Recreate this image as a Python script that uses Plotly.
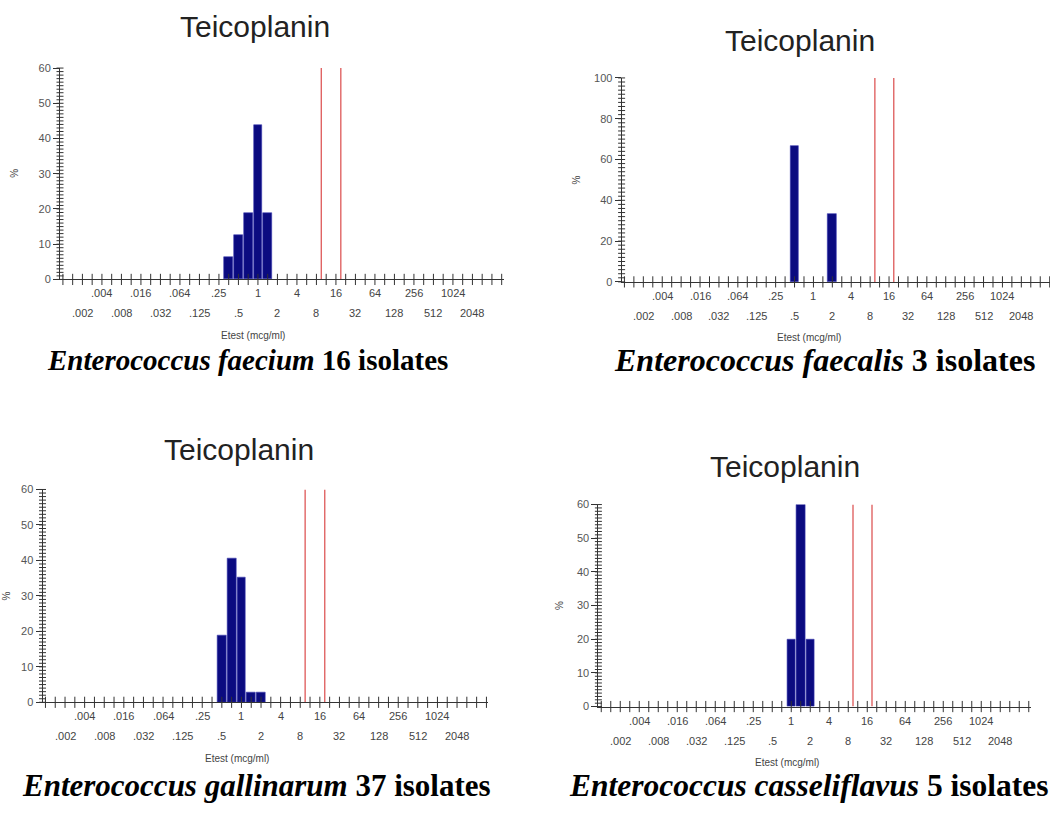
import plotly.graph_objects as go

# Etest half-dilution scale (mcg/ml); bins are placed at their index on this scale
mic_scale = [0.002, 0.003, 0.004, 0.006, 0.008, 0.012, 0.016, 0.023, 0.032, 0.047,
             0.064, 0.094, 0.125, 0.19, 0.25, 0.38, 0.5, 0.75, 1, 1.5, 2, 3, 4, 6,
             8, 12, 16, 24, 32, 48, 64, 96, 128, 192, 256, 384, 512, 768, 1024,
             1536, 2048]

# doubling-dilution labels, alternating between an upper and a lower row
top_labels = {0.004: ".004", 0.016: ".016", 0.064: ".064", 0.25: ".25", 1: "1",
              4: "4", 16: "16", 64: "64", 256: "256", 1024: "1024"}
bottom_labels = {0.002: ".002", 0.008: ".008", 0.032: ".032", 0.125: ".125",
                 0.5: ".5", 2: "2", 8: "8", 32: "32", 128: "128", 512: "512",
                 2048: "2048"}

# teicoplanin breakpoints (S <= 8, R >= 32): lines at the upper edge of the 8 and 16 bins
breakpoints = [8, 16]

drug = "Teicoplanin"
x_title = "Etest (mcg/ml)"
y_title = "%"

faecium_mic = [0.38, 0.5, 0.75, 1, 1.5]
faecium_pct = [6.25, 12.5, 18.75, 43.75, 18.75]

faecalis_mic = [0.5, 2]
faecalis_pct = [66.67, 33.33]

gallinarum_mic = [0.5, 0.75, 1, 1.5, 2]
gallinarum_pct = [18.92, 40.54, 35.14, 2.70, 2.70]

casseliflavus_mic = [1, 1.5, 2]
casseliflavus_pct = [20, 60, 20]

captions = [
    "<b><i>Enterococcus faecium</i> 16 isolates</b>",
    "<b><i>Enterococcus faecalis</i> 3 isolates</b>",
    "<b><i>Enterococcus gallinarum</i> 37 isolates</b>",
    "<b><i>Enterococcus casseliflavus</i> 5 isolates</b>",
]

W, H = 1050, 816
SANS = "Liberation Sans, Arial, sans-serif"
SERIF = "Liberation Serif, Times New Roman, serif"
BAR = "#0b0b80"
RED = "#e06464"
AX = "#333333"

# panel geometry in pixels: left edge, px per half-step, plot top/bottom, title centre,
# y-label offset, caption left edge / centre line / size
panels = [
    dict(mic=faecium_mic, pct=faecium_pct, x0=60, step=9.75, top=63, bot=277.5,
         ymax=60, major=10, minor=1, title_x=255, title_y=26, ylab=-45,
         cap_x=45, cap_y=359, cap_size=29),
    dict(mic=faecalis_mic, pct=faecalis_pct, x0=621.6, step=9.45, top=73, bot=280,
         ymax=100, major=20, minor=2, title_x=800, title_y=40.5, ylab=-45,
         cap_x=612, cap_y=359, cap_size=32),
    dict(mic=gallinarum_mic, pct=gallinarum_pct, x0=42.5, step=9.8, top=490.7, bot=706.7,
         ymax=60, major=10, minor=1, title_x=239, title_y=455, ylab=-36,
         cap_x=20, cap_y=791, cap_size=31),
    dict(mic=casseliflavus_mic, pct=casseliflavus_pct, x0=598.4, step=9.5, top=506, bot=711,
         ymax=60, major=10, minor=1, title_x=785, title_y=472.6, ylab=-39,
         cap_x=567, cap_y=791, cap_size=31.5),
]

LEFT_PAD = 2.3    # half-steps shown below .002
RIGHT_PAD = 3.2   # half-steps shown above 2048

fig = go.Figure()
annotations = []
layout_axes = {}

for n, p in enumerate(panels, start=1):
    sfx = "" if n == 1 else str(n)
    xa, ya = "x" + sfx, "y" + sfx

    lo = -LEFT_PAD
    hi = len(mic_scale) - 1 + RIGHT_PAD
    x1 = p["x0"] + (hi - lo) * p["step"]
    if x1 > W:
        x1 = W
        hi = lo + (W - p["x0"]) / p["step"]

    layout_axes["xaxis" + sfx] = dict(
        domain=[p["x0"] / W, x1 / W], range=[lo, hi], anchor=ya,
        showline=True, linecolor=AX, linewidth=1, ticks="", showticklabels=False,
        showgrid=False, zeroline=False,
    )
    layout_axes["yaxis" + sfx] = dict(
        domain=[1 - p["bot"] / H, 1 - p["top"] / H], range=[0, p["ymax"]], anchor=xa,
        showline=True, linecolor=AX, linewidth=1, ticks="outside", ticklen=6,
        tickcolor=AX, tickwidth=1, dtick=p["major"], tick0=0,
        tickfont=dict(family=SANS, size=11, color="#555555"),
        showgrid=False, zeroline=False,
    )

    # histogram bars
    pos = [mic_scale.index(v) for v in p["mic"]]
    fig.add_trace(go.Bar(
        x=pos, y=p["pct"], width=0.9, xaxis=xa, yaxis=ya,
        marker=dict(color=BAR, line=dict(color="#3c3cb0", width=0.6)),
        showlegend=False, hoverinfo="x+y",
    ))

    # breakpoint lines
    for bp in breakpoints:
        bx = mic_scale.index(bp) + 0.5
        fig.add_trace(go.Scatter(
            x=[bx, bx], y=[0, p["ymax"]], mode="lines", xaxis=xa, yaxis=ya,
            line=dict(color=RED, width=1.4), showlegend=False, hoverinfo="skip",
        ))

    # crossing tick marks on the x axis, one per half-step
    tick_pos = [t for t in range(int(-LEFT_PAD), int(hi) + 1) if lo < t <= hi]
    fig.add_trace(go.Scatter(
        x=tick_pos, y=[0] * len(tick_pos), mode="markers", xaxis=xa, yaxis=ya,
        marker=dict(symbol="line-ns", size=8, line=dict(color=AX, width=1)),
        cliponaxis=False, showlegend=False, hoverinfo="skip",
    ))

    # crossing minor ticks on the y axis
    ys = [k * p["minor"] for k in range(int(p["ymax"] / p["minor"]) + 1)]
    fig.add_trace(go.Scatter(
        x=[lo] * len(ys), y=ys, mode="markers", xaxis=xa, yaxis=ya,
        marker=dict(symbol="line-ew", size=5, line=dict(color=AX, width=1)),
        cliponaxis=False, showlegend=False, hoverinfo="skip",
    ))

    # two-row x tick labels
    for row, shift in ((top_labels, -14), (bottom_labels, -34)):
        for v, txt in row.items():
            annotations.append(dict(
                x=mic_scale.index(v), y=0, xref=xa, yref=ya + " domain",
                text=txt, showarrow=False, yanchor="middle", yshift=shift,
                font=dict(family=SANS, size=11, color="#444444"),
            ))

    # axis titles
    annotations.append(dict(
        x=17.5, y=0, xref=xa, yref=ya + " domain", text=x_title, showarrow=False,
        yanchor="middle", yshift=-56, font=dict(family=SANS, size=10, color="#444444"),
    ))
    annotations.append(dict(
        x=0, y=0.5, xref=xa + " domain", yref=ya + " domain", text=y_title,
        showarrow=False, textangle=-90, xanchor="center", xshift=p["ylab"],
        font=dict(family=SANS, size=10, color="#444444"),
    ))

    # chart title
    annotations.append(dict(
        x=p["title_x"] / W, y=1 - p["title_y"] / H, xref="paper", yref="paper",
        text=drug, showarrow=False, xanchor="center", yanchor="middle", yshift=5,
        font=dict(family=SANS, size=30, color="#222222"),
    ))

    # species caption
    annotations.append(dict(
        x=p["cap_x"] / W, y=1 - p["cap_y"] / H, xref="paper", yref="paper",
        text=captions[n - 1], showarrow=False, xanchor="left", yanchor="middle",
        font=dict(family=SERIF, size=p["cap_size"], color="#000000"),
    ))

fig.update_layout(
    width=W, height=H, margin=dict(l=0, r=0, t=0, b=0),
    paper_bgcolor="white", plot_bgcolor="rgba(0,0,0,0)",
    bargap=0, annotations=annotations, **layout_axes,
)

fig.write_html("out.html")
